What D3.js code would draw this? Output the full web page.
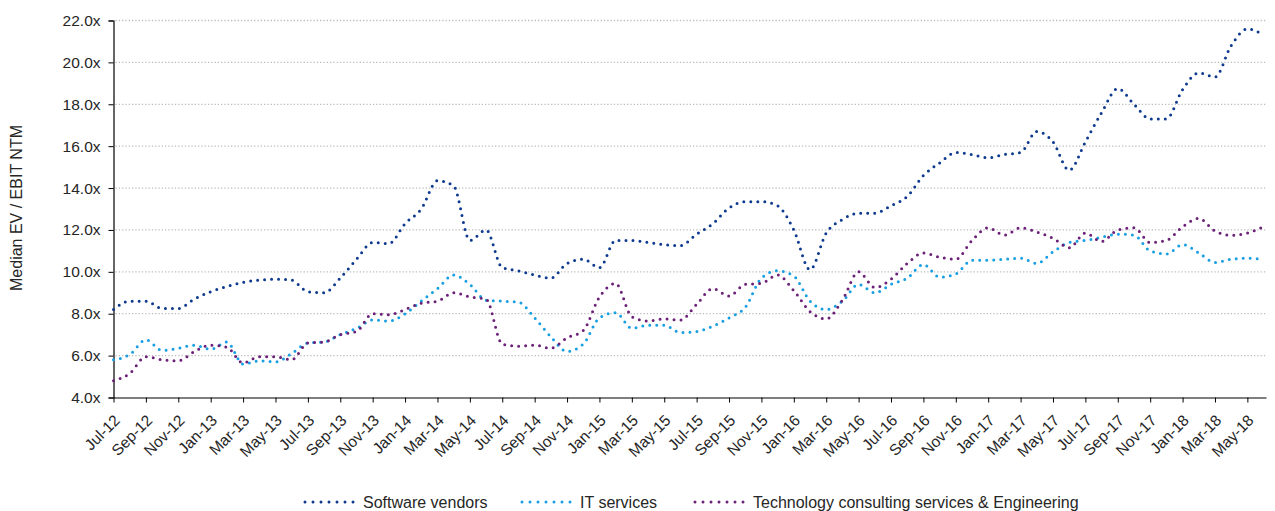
<!DOCTYPE html>
<html>
<head>
<meta charset="utf-8">
<script src="https://cdn.jsdelivr.net/npm/d3@7"></script>
<style>
  body { margin: 0; background: #fff; }
  text { font-family: "Liberation Sans", Arial, sans-serif; fill: #262626; }
</style>
</head>
<body>
<svg id="chart" width="1275" height="511"></svg>
<script>
// Tick labels, one every two months (Jul-12 .. May-18)
const tickLabels = [
  'Jul-12', 'Sep-12', 'Nov-12', 'Jan-13', 'Mar-13', 'May-13', 'Jul-13', 'Sep-13', 'Nov-13',
  'Jan-14', 'Mar-14', 'May-14', 'Jul-14', 'Sep-14', 'Nov-14', 'Jan-15', 'Mar-15', 'May-15',
  'Jul-15', 'Sep-15', 'Nov-15', 'Jan-16', 'Mar-16', 'May-16', 'Jul-16', 'Sep-16', 'Nov-16',
  'Jan-17', 'Mar-17', 'May-17', 'Jul-17', 'Sep-17', 'Nov-17', 'Jan-18', 'Mar-18', 'May-18'
];

const yTicks = [4, 6, 8, 10, 12, 14, 16, 18, 20, 22];

// Monthly values, Jul-12 .. Jun-18
const softwareVendors = [
  8.2, 8.6, 8.6, 8.25, 8.25, 8.7, 9.05, 9.3, 9.5, 9.6, 9.65, 9.6,
  9.05, 9.0, 9.7, 10.6, 11.4, 11.35, 12.3, 13.0, 14.35, 14.1, 11.5, 12.0,
  10.2, 10.05, 9.85, 9.7, 10.4, 10.6, 10.2, 11.5, 11.5, 11.4, 11.3, 11.25,
  11.8, 12.3, 13.05, 13.35, 13.35, 13.15, 12.0, 10.1, 11.85, 12.5, 12.8, 12.8,
  13.15, 13.6, 14.6, 15.2, 15.7, 15.6, 15.45, 15.6, 15.7, 16.7, 16.2, 14.85,
  16.2, 17.6, 18.75, 18.0, 17.3, 17.3, 18.7, 19.5, 19.3, 20.8, 21.6, 21.3
];

const itServices = [
  5.8, 6.05, 6.75, 6.25, 6.35, 6.5, 6.3, 6.65, 5.6, 5.75, 5.7, 6.1,
  6.6, 6.65, 7.0, 7.3, 7.7, 7.65, 8.0, 8.6, 9.2, 9.85, 9.4, 8.65,
  8.6, 8.55, 7.8, 6.9, 6.2, 6.55, 7.8, 8.05, 7.3, 7.45, 7.45, 7.1,
  7.15, 7.4, 7.8, 8.3, 9.7, 10.05, 9.8, 8.6, 8.2, 8.6, 9.4, 9.0,
  9.4, 9.7, 10.35, 9.75, 9.9, 10.55, 10.55, 10.6, 10.65, 10.4, 10.95, 11.4,
  11.5, 11.65, 11.8, 11.75, 11.0, 10.85, 11.3, 10.9, 10.45, 10.6, 10.65, 10.6
];

const techConsulting = [
  4.8, 5.15, 5.95, 5.8, 5.75, 6.2, 6.5, 6.4, 5.65, 5.95, 5.95, 5.8,
  6.6, 6.65, 7.0, 7.15, 8.0, 7.95, 8.2, 8.5, 8.6, 9.0, 8.8, 8.7,
  6.55, 6.45, 6.5, 6.35, 6.85, 7.2, 8.8, 9.45, 7.85, 7.65, 7.75, 7.7,
  8.45, 9.2, 8.85, 9.4, 9.45, 9.85, 9.1, 8.1, 7.75, 8.65, 10.0, 9.25,
  9.65, 10.4, 10.9, 10.7, 10.6, 11.5, 12.1, 11.75, 12.1, 11.9, 11.6, 11.15,
  11.85, 11.45, 12.0, 12.1, 11.4, 11.5, 12.15, 12.55, 11.95, 11.75, 11.85, 12.15
];

const seriesNames = ['Software vendors', 'IT services', 'Technology consulting services & Engineering'];
const seriesColors = ['#0d3a8e', '#179fe2', '#6c2178'];

const series = [softwareVendors, itServices, techConsulting].map((values, i) => ({
  name: seriesNames[i],
  color: seriesColors[i],
  values: values
}));

const svg = d3.select('#chart');

const x = d3.scaleLinear()
  .domain([0, 71.15])
  .range([113.5, 1266]);

const y = d3.scaleLinear()
  .domain([4, 22])
  .range([397.5, 20.5]);

// Horizontal gridlines
svg.append('g')
  .selectAll('line')
  .data(yTicks.slice(1))
  .enter()
  .append('line')
  .attr('x1', x.range()[0] + 2)
  .attr('x2', x.range()[1])
  .attr('y1', d => y(d))
  .attr('y2', d => y(d))
  .attr('stroke', '#bcbcbc')
  .attr('stroke-width', 1.3)
  .attr('stroke-dasharray', '1.3,2');

// Y axis
const yAxis = svg.append('g')
  .attr('transform', `translate(${x.range()[0]},0)`)
  .call(d3.axisLeft(y).tickValues(yTicks).tickFormat(d => d.toFixed(1) + 'x').tickSize(5).tickPadding(8));

// X axis
const xAxis = svg.append('g')
  .attr('transform', `translate(0,${y.range()[0]})`)
  .call(d3.axisBottom(x)
    .tickValues(d3.range(0, 72, 2))
    .tickFormat(i => tickLabels[i / 2])
    .tickSize(5)
    .tickSizeOuter(0));

[yAxis, xAxis].forEach(ax => {
  ax.select('.domain').attr('stroke', '#000').attr('stroke-width', 1.2);
  ax.selectAll('.tick line').attr('stroke', '#000');
  ax.selectAll('text').style('font-size', '15.5px').attr('fill', '#262626');
});

xAxis.selectAll('.tick text')
  .attr('text-anchor', 'end')
  .attr('x', 0)
  .attr('y', 0)
  .attr('dy', '0.35em')
  .attr('transform', 'translate(3,20) rotate(-45)');

// Y axis title
svg.append('text')
  .attr('transform', 'translate(22,208) rotate(-90)')
  .attr('text-anchor', 'middle')
  .style('font-size', '16px')
  .attr('fill', '#404040')
  .text('Median EV / EBIT NTM');

// Lines
const line = d3.line()
  .x((d, i) => x(i))
  .y(d => y(d))
  .curve(d3.curveMonotoneX);

svg.append('g')
  .selectAll('path')
  .data(series)
  .enter()
  .append('path')
  .attr('d', d => line(d.values))
  .attr('fill', 'none')
  .attr('stroke', d => d.color)
  .attr('stroke-width', 3)
  .attr('stroke-linecap', 'round')
  .attr('stroke-dasharray', '0,7');

// Legend
const legendX = [304, 521, 694];
const legend = svg.append('g')
  .selectAll('g')
  .data(series)
  .enter()
  .append('g')
  .attr('transform', (d, i) => `translate(${legendX[i]},502)`);

legend.append('line')
  .attr('x1', 1)
  .attr('x2', 50)
  .attr('stroke', d => d.color)
  .attr('stroke-width', 3)
  .attr('stroke-linecap', 'round')
  .attr('stroke-dasharray', '0,8');

legend.append('text')
  .attr('x', 59)
  .attr('dy', '0.35em')
  .style('font-size', '16px')
  .text(d => d.name);
</script>
</body>
</html>
